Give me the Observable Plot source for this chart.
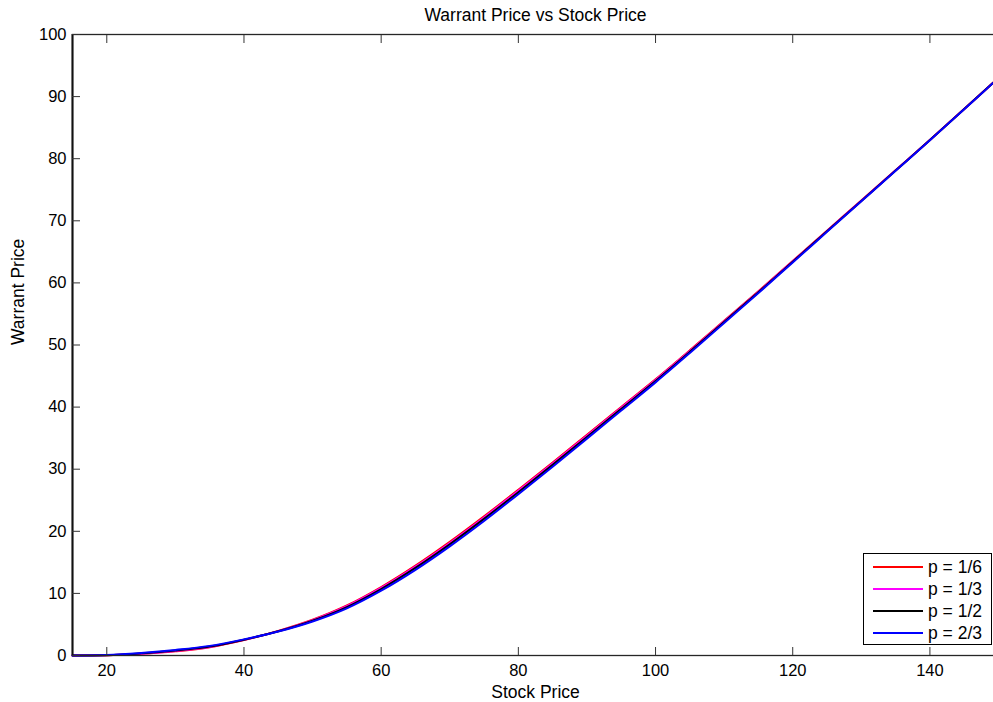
<!DOCTYPE html>
<html>
<head>
<meta charset="utf-8">
<script src="https://cdn.jsdelivr.net/npm/d3@7"></script>
<script src="https://cdn.jsdelivr.net/npm/@observablehq/plot@0.6"></script>
<style>
  html, body { margin: 0; padding: 0; background: #fff; }
  #chart { position: relative; width: 993px; height: 702px; overflow: hidden;
           font-family: "Liberation Sans", Arial, Helvetica, sans-serif; }
  #chart svg { overflow: hidden; display: block; }
  .legend { position: absolute; left: 863px; top: 553px; width: 129px; height: 92px;
            box-sizing: border-box; border: 1.3px solid #000; background: #fff;
            padding-top: 2px; }
  .legend .row { height: 22px; line-height: 22px; display: flex; align-items: center;
                 font-size: 17.5px; color: #000; }
  .legend .swatch { display: inline-block; width: 50px; height: 0; border-top: 2px solid;
                    margin-left: 9px; margin-right: 5px; }
</style>
</head>
<body>
<div id="chart"></div>
<script>
// Stock prices at which the warrant is valued
const stock = [15, 20, 25, 30, 35, 40, 45, 50, 55, 60, 65, 70, 75, 80, 85, 90, 95,
               100, 105, 110, 115, 120, 125, 130, 135, 140, 145, 150];

// Warrant price for each dilution parameter p
const warrantP16 = [0.0, 0.04, 0.27, 0.68, 1.33, 2.49, 3.95, 5.75, 8.05, 11.02, 14.47, 18.3,
                    22.41, 26.7, 31.08, 35.56, 40.02, 44.48, 49.14, 53.9, 58.66, 63.52, 68.4,
                    73.27, 78.15, 83.03, 88.02, 93.01];
const warrantP13 = [0.0, 0.05, 0.3, 0.73, 1.38, 2.52, 3.93, 5.69, 7.94, 10.88, 14.31, 18.12,
                    22.23, 26.52, 30.91, 35.4, 39.88, 44.36, 49.03, 53.81, 58.59, 63.47, 68.36,
                    73.24, 78.13, 83.02, 88.01, 93.0];
const warrantP12 = [0.0, 0.06, 0.35, 0.8, 1.45, 2.55, 3.9, 5.6, 7.8, 10.7, 14.1, 17.9,
                    22.0, 26.3, 30.7, 35.2, 39.7, 44.2, 48.9, 53.7, 58.5, 63.4, 68.3,
                    73.2, 78.1, 83.0, 88.0, 93.0];
const warrantP23 = [0.0, 0.09, 0.42, 0.9, 1.55, 2.6, 3.86, 5.48, 7.6, 10.44, 13.8, 17.58,
                    21.67, 25.98, 30.4, 34.92, 39.45, 43.98, 48.71, 53.54, 58.37, 63.3, 68.22,
                    73.14, 78.06, 82.97, 87.98, 92.99];

const seriesLabels = ["p = 1/6", "p = 1/3", "p = 1/2", "p = 2/3"];
const seriesColors = ["#ff0000", "#ff00ff", "#000000", "#0000ff"];
const seriesValues = [warrantP16, warrantP13, warrantP12, warrantP23];

const xTicks = [20, 40, 60, 80, 100, 120, 140];
const yTicks = [0, 10, 20, 30, 40, 50, 60, 70, 80, 90, 100];
const xDomain = [15, 150];
const yDomain = [0, 100];

const titleText = "Warrant Price vs Stock Price";
const xLabel = "Stock Price";
const yLabel = "Warrant Price";

// Long-format rows for the line mark
const rows = seriesLabels.flatMap((label, i) =>
  stock.map((s, j) => ({series: label, stock: s, warrant: seriesValues[i][j]})));

const tickColor = "#333";

const plot = Plot.plot({
  width: 993,
  height: 702,
  marginLeft: 72,
  marginRight: -5,
  marginTop: 34,
  marginBottom: 47,
  style: {fontFamily: "'Liberation Sans', Arial, Helvetica, sans-serif", fontSize: "16.5px",
          background: "#fff", color: "#000"},
  x: {domain: xDomain},
  y: {domain: yDomain},
  color: {domain: seriesLabels, range: seriesColors},
  marks: [
    Plot.line(rows, {x: "stock", y: "warrant", z: "series", stroke: "series",
                     strokeWidth: 2, curve: "monotone-x"}),
    Plot.frame({stroke: "#262626", strokeWidth: 1.3}),
    Plot.ruleX([xDomain[0]], {stroke: "#111", strokeWidth: 2}),
    Plot.axisX({ticks: xTicks, tickSize: -8, tickPadding: 17, label: null,
                stroke: tickColor, fill: "#000", fontSize: 16.5}),
    Plot.axisX({anchor: "top", ticks: xTicks, tickSize: -8, tickFormat: () => "",
                label: null, stroke: tickColor}),
    Plot.axisY({ticks: yTicks, tickSize: -8, tickPadding: 14, label: null,
                stroke: tickColor, fill: "#000", fontSize: 16.5}),
    Plot.text([titleText], {frameAnchor: "top", dy: -14, lineAnchor: "bottom",
                            fontSize: 17.5, fill: "#000"}),
    Plot.text([xLabel], {frameAnchor: "bottom", dy: 42, lineAnchor: "bottom",
                         fontSize: 17.5, fill: "#000"}),
    Plot.text([yLabel], {frameAnchor: "left", dx: -54, rotate: -90,
                         fontSize: 17.5, fill: "#000"})
  ]
});

const chart = document.getElementById("chart");
chart.appendChild(plot);

// Legend box in the lower right corner of the axes
const legend = document.createElement("div");
legend.className = "legend";
seriesLabels.forEach((label, i) => {
  const row = document.createElement("div");
  row.className = "row";
  const sw = document.createElement("span");
  sw.className = "swatch";
  sw.style.borderTopColor = seriesColors[i];
  const t = document.createElement("span");
  t.textContent = label;
  row.appendChild(sw);
  row.appendChild(t);
  legend.appendChild(row);
});
chart.appendChild(legend);
</script>
</body>
</html>
